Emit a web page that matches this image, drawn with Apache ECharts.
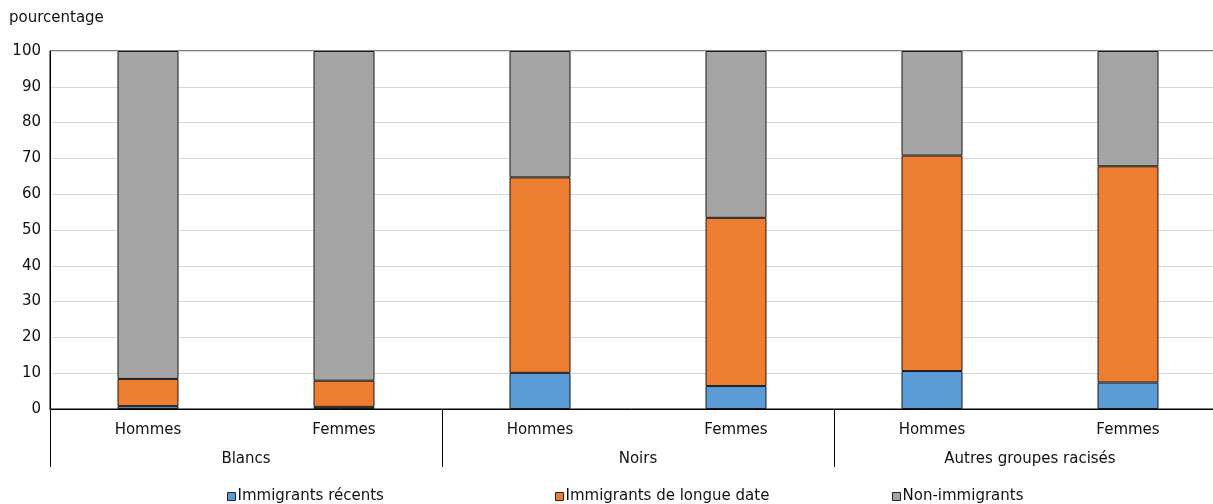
<!DOCTYPE html>
<html><head><meta charset="utf-8">
<script src="https://cdn.jsdelivr.net/npm/echarts@6/dist/echarts.min.js"></script>
<style>html,body{margin:0;padding:0;background:#fff}#c{width:1213px;height:504px}</style>
</head><body><div id="c"></div>
<script>
const categories = ['Hommes','Femmes','Hommes','Femmes','Hommes','Femmes'];
const groups = ['Blancs','Noirs','Autres groupes racisés'];
const seriesNames = ['Immigrants récents','Immigrants de longue date','Non-immigrants'];
const recents = [0.8, 0.6, 10.1, 6.4, 10.6, 7.4];
const longueDate = [7.6, 7.3, 54.6, 47.0, 60.2, 60.4];
const nonImmigrants = [91.6, 92.1, 35.3, 46.6, 29.2, 32.2];
const yTicks = [0,10,20,30,40,50,60,70,80,90,100];
const colors = ['#5B9BD5','#ED7D31','#A5A5A5'];
const font = 'DejaVu Sans, Verdana, sans-serif';
const chart = echarts.init(document.getElementById('c'));
const values = [recents, longueDate, nonImmigrants];
const legendX = [222, 550, 887];
chart.setOption({
  animation:false,
  textStyle:{fontFamily:font},
  grid:{left:50, top:51, width:1176, height:358, outerBoundsMode:'none', containLabel:false,
    show:true, borderColor:'#000', borderWidth:1, backgroundColor:'transparent'},
  graphic:[{type:'text', left:9, top:11, style:{text:'pourcentage', font:'15px ' + font, fill:'#111'}}],
  legend: seriesNames.map((n,i)=>({data:[n], left:legendX[i], top:484, itemWidth:8, itemHeight:8, icon:'rect',
    itemStyle:{borderColor:'#222', borderWidth:1},
    textStyle:{fontFamily:font, fontSize:15, color:'#111', padding:[0,0,0,-3]}})),
  xAxis:[
    {type:'category', data:categories, position:'bottom',
     axisLine:{show:true, lineStyle:{color:'#000', width:1}}, axisTick:{show:false},
     axisLabel:{fontFamily:font, fontSize:15, color:'#111', margin:14}},
    {type:'category', data:groups, position:'bottom', offset:0,
     axisLine:{show:false}, axisTick:{show:true, length:58, lineStyle:{color:'#000'}},
     axisLabel:{fontFamily:font, fontSize:15, color:'#111', margin:43}}
  ],
  yAxis:{type:'value', min:0, max:100, interval:10,
    axisLine:{show:true, lineStyle:{color:'#000'}}, axisTick:{show:false},
    axisLabel:{fontFamily:font, fontSize:15, color:'#111', margin:9, formatter:v=>yTicks.includes(v)?String(v):''},
    splitLine:{show:true, lineStyle:{color:'#d9d9d9', width:1}}},
  series: seriesNames.map((n,i)=>({name:n, type:'bar', stack:'s', xAxisIndex:0, barWidth:61,
    itemStyle:{color:colors[i], borderColor:'#1a1a1a', borderWidth:1}, data:values[i]}))
});
</script></body></html>
